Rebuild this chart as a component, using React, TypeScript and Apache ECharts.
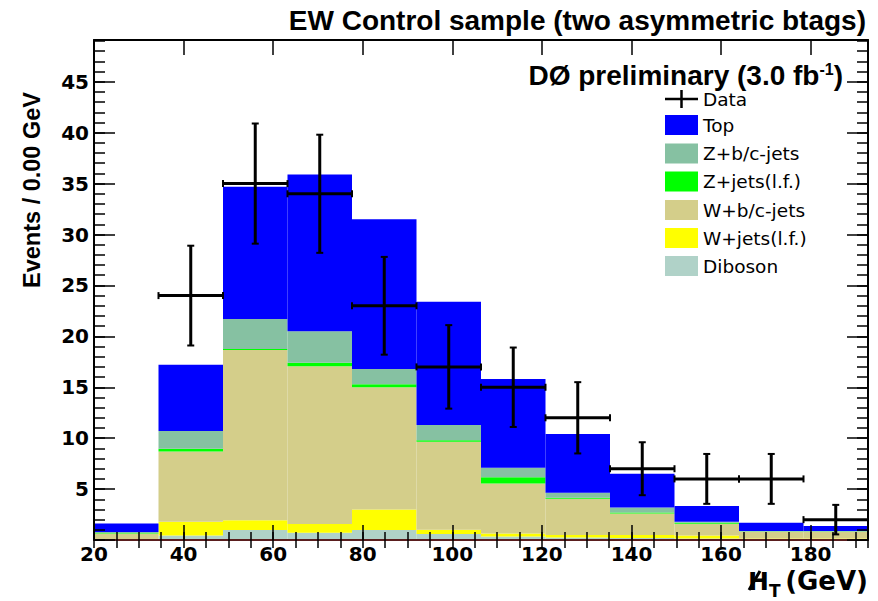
import React, { useEffect, useRef } from 'react';
import * as echarts from 'echarts';

// ---- Data ----
const binLow = [20, 34.4, 48.8, 63.2, 77.6, 92, 106.4, 120.8, 135.2, 149.6, 164, 178.4];
const binHigh = [34.4, 48.8, 63.2, 77.6, 92, 106.4, 120.8, 135.2, 149.6, 164, 178.4, 192.8];

const diboson = [0.05, 0.45, 0.98, 0.7, 0.98, 0.6, 0.35, 0.25, 0.2, 0.15, 0.1, 0.1];
const wLightFlavor = [0.05, 1.35, 0.97, 0.87, 2.02, 0.4, 0.3, 0.25, 0.3, 0.3, 0.05, 0.05];
const wHeavyFlavor = [0.55, 6.9, 16.7, 15.48, 12.0, 8.64, 4.9, 3.55, 2.1, 1.15, 0.65, 0.65];
const zLightFlavor = [0.03, 0.25, 0.1, 0.35, 0.3, 0.16, 0.6, 0.1, 0.1, 0.1, 0.03, 0.03];
const zHeavyFlavor = [0.1, 1.75, 2.95, 3.1, 1.5, 1.5, 0.95, 0.49, 0.5, 0.1, 0.05, 0.05];
const topQuark = [0.85, 6.5, 13.0, 15.4, 14.7, 12.1, 8.7, 5.76, 3.3, 1.53, 0.82, 0.49];

const dataCounts = [0, 24, 35, 34, 23, 17, 15, 12, 7, 6, 6, 2];
const dataErrors = [0, 4.9, 5.9, 5.8, 4.8, 4.1, 3.9, 3.5, 2.6, 2.45, 2.45, 1.45];

const xTickLabels = [20, 40, 60, 80, 100, 120, 140, 160, 180];
const yTickLabels = [5, 10, 15, 20, 25, 30, 35, 40, 45];

const legendNames = ['Top', 'Z+b/c-jets', 'Z+jets(l.f.)', 'W+b/c-jets', 'W+jets(l.f.)', 'Diboson'];

const X_MIN = 20;
const X_MAX = 192.8;
const Y_MIN = 0;
const Y_MAX = 49.1;

// stacking order: bottom -> top
const stack = [
  { name: 'Diboson', values: diboson, color: '#b0d2c8' },
  { name: 'W+jets(l.f.)', values: wLightFlavor, color: '#ffff00' },
  { name: 'W+b/c-jets', values: wHeavyFlavor, color: '#d4ce8a' },
  { name: 'Z+jets(l.f.)', values: zLightFlavor, color: '#00ff00' },
  { name: 'Z+b/c-jets', values: zHeavyFlavor, color: '#86c1a2' },
  { name: 'Top', values: topQuark, color: '#0000ff' },
];

const colorOf: Record<string, string> = {};
stack.forEach((s) => (colorOf[s.name] = s.color));

const SANS = '"Liberation Sans", Arial, Helvetica, sans-serif';
const DEJAVU = '"DejaVu Sans", sans-serif';

export default function App() {
  const ref = useRef<HTMLDivElement>(null);

  useEffect(() => {
    if (!ref.current) return;
    const chart = echarts.init(ref.current, null, { renderer: 'svg' });

    const base = binLow.map(() => 0);
    const stackSeries = stack.map((comp) => {
      const rows = binLow.map((lo, i) => {
        const b = base[i];
        const t = b + comp.values[i];
        base[i] = t;
        return [lo, binHigh[i], b, t];
      });
      return {
        type: 'custom',
        name: comp.name,
        xAxisIndex: 0,
        yAxisIndex: 0,
        z: 2,
        encode: { x: [0, 1], y: [2, 3] },
        data: rows,
        renderItem: (params: any, api: any) => {
          const a = api.coord([api.value(0), api.value(3)]);
          const b = api.coord([api.value(1), api.value(2)]);
          return {
            type: 'rect',
            shape: { x: a[0], y: a[1], width: b[0] - a[0], height: b[1] - a[1] },
            style: { fill: comp.color },
          };
        },
      };
    });

    const errRows = binLow
      .map((lo, i) => [(lo + binHigh[i]) / 2, dataCounts[i], dataCounts[i] - dataErrors[i], dataCounts[i] + dataErrors[i], lo, binHigh[i]])
      .filter((r) => r[1] > 0);

    const errorSeries = {
      type: 'custom',
      name: 'Data',
      xAxisIndex: 0,
      yAxisIndex: 0,
      z: 8,
      encode: { x: [0, 4, 5], y: [1, 2, 3] },
      data: errRows,
      renderItem: (params: any, api: any) => {
        const c = api.coord([api.value(0), api.value(1)]);
        const l = api.coord([api.value(4), api.value(1)]);
        const r = api.coord([api.value(5), api.value(1)]);
        const lo = api.coord([api.value(0), api.value(2)]);
        const hi = api.coord([api.value(0), api.value(3)]);
        const st = { stroke: '#000', lineWidth: 3 };
        const cap = 3.5;
        return {
          type: 'group',
          children: [
            { type: 'line', shape: { x1: l[0], y1: c[1], x2: r[0], y2: c[1] }, style: st },
            { type: 'line', shape: { x1: c[0], y1: lo[1], x2: c[0], y2: hi[1] }, style: st },
            { type: 'line', shape: { x1: l[0], y1: c[1] - cap, x2: l[0], y2: c[1] + cap }, style: { stroke: '#000', lineWidth: 2 } },
            { type: 'line', shape: { x1: r[0], y1: c[1] - cap, x2: r[0], y2: c[1] + cap }, style: { stroke: '#000', lineWidth: 2 } },
            { type: 'line', shape: { x1: c[0] - cap, y1: lo[1], x2: c[0] + cap, y2: lo[1] }, style: { stroke: '#000', lineWidth: 2 } },
            { type: 'line', shape: { x1: c[0] - cap, y1: hi[1], x2: c[0] + cap, y2: hi[1] }, style: { stroke: '#000', lineWidth: 2 } },
          ],
        };
      },
    };

    const tickStyle = { color: '#000', width: 1.5 };
    const xCommon = { type: 'value', min: X_MIN, max: X_MAX, splitLine: { show: false }, z: 5 };
    const yCommon = { type: 'value', min: Y_MIN, max: Y_MAX, splitLine: { show: false }, z: 5 };

    const xAxes = [
      {
        ...xCommon,
        position: 'bottom',
        interval: 20,
        axisLine: { show: true, onZero: false, lineStyle: { color: '#5a1e1e', width: 2 } },
        axisTick: { show: true, inside: true, length: 15, lineStyle: tickStyle },
        axisLabel: {
          show: true,
          margin: 4,
          color: '#000',
          fontFamily: DEJAVU,
          fontWeight: 'bold',
          fontSize: 20,
          formatter: (v: number) => (xTickLabels.includes(Math.round(v * 1000) / 1000) ? String(v) : ''),
        },
      },
      {
        ...xCommon,
        position: 'bottom',
        interval: 5,
        axisLine: { show: false },
        axisTick: { show: true, inside: true, length: 8, lineStyle: tickStyle },
        axisLabel: { show: false },
      },
      {
        ...xCommon,
        position: 'top',
        interval: 20,
        axisLine: { show: true, onZero: false, lineStyle: { color: '#000', width: 2 } },
        axisTick: { show: true, inside: true, length: 15, lineStyle: tickStyle },
        axisLabel: { show: false },
      },
      {
        ...xCommon,
        position: 'top',
        interval: 5,
        axisLine: { show: false },
        axisTick: { show: true, inside: true, length: 8, lineStyle: tickStyle },
        axisLabel: { show: false },
      },
    ];

    const yAxes = [
      {
        ...yCommon,
        position: 'left',
        interval: 5,
        axisLine: { show: true, onZero: false, lineStyle: { color: '#000', width: 2 } },
        axisTick: { show: true, inside: true, length: 21, lineStyle: tickStyle },
        axisLabel: {
          show: true,
          margin: 5,
          color: '#000',
          fontFamily: DEJAVU,
          fontWeight: 'bold',
          fontSize: 20,
          formatter: (v: number) => (yTickLabels.includes(Math.round(v * 1000) / 1000) ? String(v) : ''),
        },
      },
      {
        ...yCommon,
        position: 'left',
        interval: 1,
        axisLine: { show: false },
        axisTick: { show: true, inside: true, length: 11, lineStyle: tickStyle },
        axisLabel: { show: false },
      },
      {
        ...yCommon,
        position: 'right',
        interval: 5,
        axisLine: { show: true, onZero: false, lineStyle: { color: '#000', width: 2 } },
        axisTick: { show: true, inside: true, length: 21, lineStyle: tickStyle },
        axisLabel: { show: false },
      },
      {
        ...yCommon,
        position: 'right',
        interval: 1,
        axisLine: { show: false },
        axisTick: { show: true, inside: true, length: 11, lineStyle: tickStyle },
        axisLabel: { show: false },
      },
    ];

    // legend (graphic)
    const rowY = [125, 153.5, 181.5, 210, 238, 266];
    const legendElems: any[] = [];
    legendElems.push(
      { type: 'line', shape: { x1: 665, y1: 99, x2: 698, y2: 99 }, style: { stroke: '#000', lineWidth: 2.5 } },
      { type: 'line', shape: { x1: 681.5, y1: 90, x2: 681.5, y2: 108 }, style: { stroke: '#000', lineWidth: 2.5 } },
      {
        type: 'text',
        x: 703,
        y: 99,
        style: { text: 'Data', fontFamily: DEJAVU, fontSize: 18.5, fill: '#000', align: 'left', verticalAlign: 'middle', textAlign: 'left', textVerticalAlign: 'middle' },
      }
    );
    legendNames.forEach((name, i) => {
      legendElems.push(
        { type: 'rect', shape: { x: 665, y: rowY[i] - 10, width: 33, height: 20 }, style: { fill: colorOf[name] } },
        {
          type: 'text',
          x: 703,
          y: rowY[i],
          style: { text: name, fontFamily: DEJAVU, fontSize: 18.5, fill: '#000', align: 'left', verticalAlign: 'middle', textAlign: 'left', textVerticalAlign: 'middle' },
        }
      );
    });

    const graphic = [
      {
        type: 'text',
        x: 866,
        y: 20,
        z: 20,
        style: {
          text: 'EW Control sample (two asymmetric btags)',
          fontFamily: SANS,
          fontWeight: 'bold',
          fontSize: 28,
          fill: '#000',
          align: 'right',
          verticalAlign: 'middle',
          textAlign: 'right',
          textVerticalAlign: 'middle',
        },
      },
      {
        type: 'text',
        x: 32,
        y: 92,
        rotation: Math.PI / 2,
        z: 20,
        style: {
          text: 'Events / 0.00 GeV',
          fontFamily: SANS,
          fontWeight: 'bold',
          fontSize: 23.5,
          fill: '#000',
          align: 'right',
          verticalAlign: 'middle',
          textAlign: 'right',
          textVerticalAlign: 'middle',
        },
      },
      {
        type: 'text',
        x: 843,
        y: 75,
        z: 20,
        style: {
          text: '{b|DØ preliminary (3.0 fb}{s|-1}{b|)}',
          align: 'right',
          verticalAlign: 'middle',
          textAlign: 'right',
          textVerticalAlign: 'middle',
          rich: {
            b: { fontFamily: SANS, fontWeight: 'bold', fontSize: 28, fill: '#000', color: '#000' },
            s: { fontFamily: SANS, fontWeight: 'bold', fontSize: 16, fill: '#000', color: '#000', verticalAlign: 'top' },
          },
        },
      },
      // x axis title: H-slash_T (GeV)
      {
        type: 'text',
        x: 748,
        y: 581,
        z: 20,
        style: { text: 'H', fontFamily: DEJAVU, fontWeight: 'bold', fontSize: 25, fill: '#000', align: 'left', verticalAlign: 'middle', textAlign: 'left', textVerticalAlign: 'middle' },
      },
      {
        type: 'line',
        z: 21,
        shape: { x1: 749, y1: 590, x2: 760, y2: 571 },
        style: { stroke: '#000', lineWidth: 3 },
      },
      {
        type: 'text',
        x: 769,
        y: 591,
        z: 20,
        style: { text: 'T', fontFamily: DEJAVU, fontWeight: 'bold', fontSize: 17, fill: '#000', align: 'left', verticalAlign: 'middle', textAlign: 'left', textVerticalAlign: 'middle' },
      },
      {
        type: 'text',
        x: 868,
        y: 581,
        z: 20,
        style: { text: '(GeV)', fontFamily: DEJAVU, fontWeight: 'bold', fontSize: 26, fill: '#000', align: 'right', verticalAlign: 'middle', textAlign: 'right', textVerticalAlign: 'middle' },
      },
      ...legendElems.map((e) => ({ ...e, z: 20 })),
    ];

    chart.setOption({
      animation: false,
      backgroundColor: '#fff',
      grid: { left: 94, top: 40, width: 774, height: 500, containLabel: false },
      xAxis: xAxes,
      yAxis: yAxes,
      series: [...stackSeries, errorSeries],
      graphic,
    } as any);

    return () => chart.dispose();
  }, []);

  return <div ref={ref} style={{ position: 'fixed', left: 0, top: 0, width: 878, height: 601, background: '#fff' }} />;
}
